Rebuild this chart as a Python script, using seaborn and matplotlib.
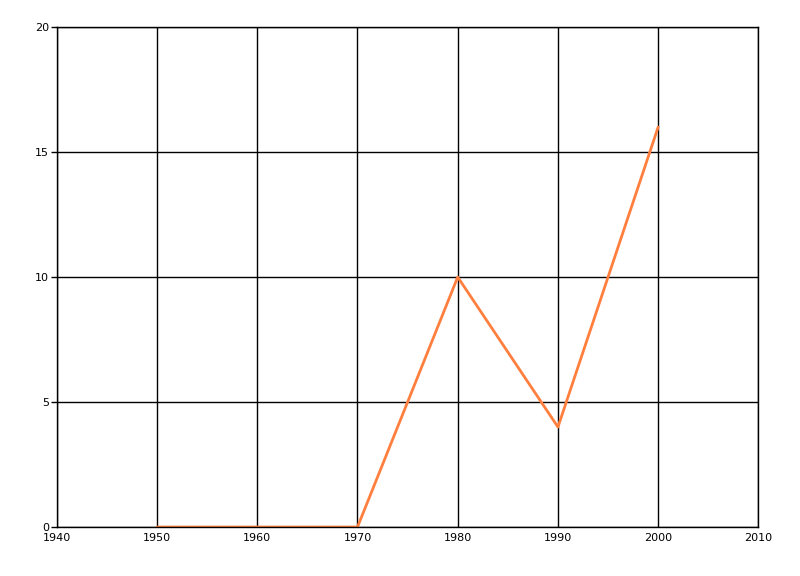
import matplotlib
matplotlib.use('Agg')
import matplotlib.pyplot as plt
import seaborn as sns
import pandas as pd

years = [1950, 1960, 1970, 1980, 1990, 2000]
values = [0, 0, 0, 10, 4, 16]

x_ticks = [1940, 1950, 1960, 1970, 1980, 1990, 2000, 2010]
y_ticks = [0, 5, 10, 15, 20]

sns.set_style('white')
plt.rcParams['font.family'] = ['DejaVu Sans']

df = pd.DataFrame({'year': years, 'value': values})

fig = plt.figure(figsize=(8, 5.76), dpi=100)
ax = fig.add_axes([0.071, 0.085, 0.877, 0.868])

sns.lineplot(data=df, x='year', y='value', color='#FF7F3F', linewidth=2, ax=ax)

ax.set_xlim(1940, 2010)
ax.set_ylim(0, 20)
ax.set_xticks(x_ticks)
ax.set_yticks(y_ticks)
ax.grid(True, color='black', linewidth=1)
ax.set_axisbelow(True)
for s in ax.spines.values():
    s.set_color('black')
    s.set_linewidth(1)
ax.tick_params(axis='y', left=True, length=4.5, width=1, color='black',
               labelcolor='black', labelsize=8, pad=1)
ax.tick_params(axis='x', bottom=False, length=0, labelcolor='black', labelsize=8, pad=4)
ax.set_xlabel('')
ax.set_ylabel('')

fig.savefig('out.png', dpi=100)
